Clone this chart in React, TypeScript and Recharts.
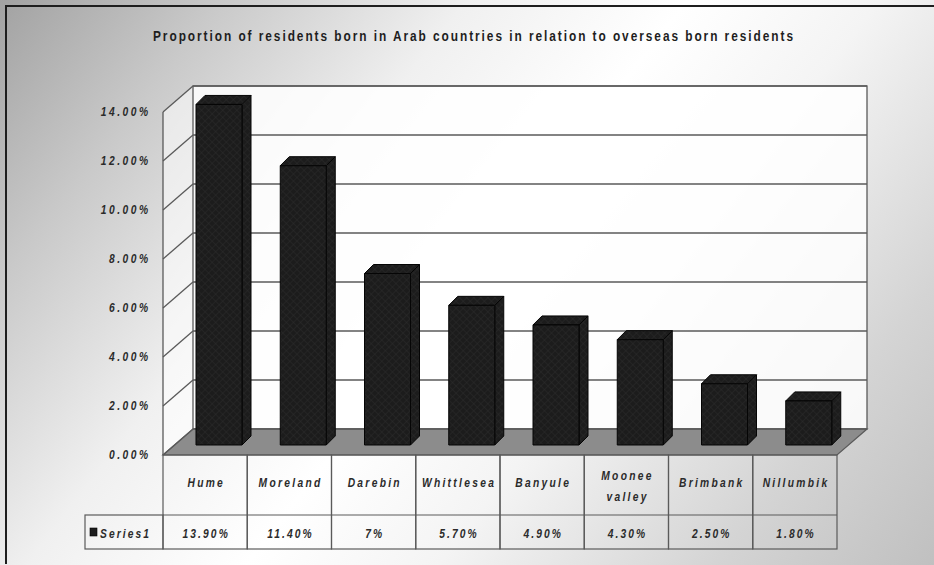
import React from 'react';
import { BarChart, Bar, XAxis, YAxis, CartesianGrid } from 'recharts';

// Share of overseas-born residents who were born in Arab countries, by municipality
const categories = ['Hume', 'Moreland', 'Darebin', 'Whittlesea', 'Banyule', 'Moonee valley', 'Brimbank', 'Nillumbik'];
const shares = [13.9, 11.4, 7, 5.7, 4.9, 4.3, 2.5, 1.8];
const yTicks = [0, 2, 4, 6, 8, 10, 12, 14];
const seriesName = 'Series1';
const title = 'Proportion of residents born in Arab countries in relation to overseas born residents';

const rows = categories.map((name, i) => ({ name, value: shares[i] }));

const W = 934;
const H = 565;
// front plane of the plot (where the axis and data table sit)
const PLOT_LEFT = 163;
const PLOT_RIGHT = 837;
const PLOT_TOP = 112;
const PLOT_BOTTOM = 455;
const Y_AXIS_W = 70;
const X_AXIS_H = 100;
// oblique depth of the box: front plane -> back wall
const DEPTH_X = 30;
const DEPTH_Y = 26;
// bars sit a little behind the front plane
const BAR_DX = 14;
const BAR_DY = -10;
const BAR_DEPTH = 9;
const BAR_W = 46;

const CELL_W = (PLOT_RIGHT - PLOT_LEFT) / categories.length;
const ROW1_H = 60;
const ROW2_H = 34;
const LEGEND_CELL_W = 78;

const FONT = '"Liberation Sans", Arial, sans-serif';
const SQUEEZE = 0.82; // condensed look, like Arial Narrow
const INK = '#2b2b2b';
const LINE = '#5a5a5a';
const BAR_FILL = '#1c1c1c';

const fmtPct = (v: number) => (Number.isInteger(v) ? `${v}%` : `${v.toFixed(2)}%`);

// bold narrow text; spacing is given in screen pixels
const NText = ({ x, y, anchor = 'start', size = 12, spacing = 0, italic = true, fill = INK, children, textLength }: any) => {
  const ls = spacing / SQUEEZE;
  // letter-spacing also trails the last glyph; shift so the ink stays anchored
  const shift = anchor === 'end' ? ls : anchor === 'middle' ? ls / 2 : 0;
  return (
    <g transform={`translate(${x},${y}) scale(${SQUEEZE},1)`}>
      <text x={shift} y={0} textAnchor={anchor} fontFamily={FONT} fontSize={size} fontWeight="bold"
        fontStyle={italic ? 'italic' : 'normal'} letterSpacing={textLength ? undefined : ls} fill={fill}
        textLength={textLength ? textLength / SQUEEZE : undefined} lengthAdjust={textLength ? 'spacing' : undefined}>
        {children}
      </text>
    </g>
  );
};

// back-wall gridline plus the matching diagonal on the side wall
const wallLine = (props: any) => {
  const { x1, y1, x2, y2, index } = props;
  return (
    <g key={`wall-${index}`}>
      <line x1={x1} y1={y1} x2={x1 + DEPTH_X} y2={y1 - DEPTH_Y} stroke={LINE} strokeWidth={1.3} />
      <line x1={x1 + DEPTH_X} y1={y1 - DEPTH_Y} x2={x2 + DEPTH_X} y2={y2 - DEPTH_Y} stroke={LINE} strokeWidth={1.3} />
    </g>
  );
};

const Box3D = (props: any) => {
  const { x, y, width, height } = props;
  if (width == null || height == null) return null;
  const fx = x + BAR_DX;
  const fy = y + BAR_DY;
  const d = BAR_DEPTH;
  const top = `${fx},${fy} ${fx + d},${fy - d} ${fx + width + d},${fy - d} ${fx + width},${fy}`;
  const side = `${fx + width},${fy} ${fx + width + d},${fy - d} ${fx + width + d},${fy + height - d} ${fx + width},${fy + height}`;
  return (
    <g stroke="#050505" strokeWidth={1} strokeLinejoin="round">
      <polygon points={side} fill="url(#barTexture)" />
      <polygon points={top} fill="url(#barTexture)" />
      <rect x={fx} y={fy} width={width} height={height} fill="url(#barTexture)" />
    </g>
  );
};

const YTick = (props: any) => {
  const { x, y, payload } = props;
  return (
    <NText x={x} y={y + 4} anchor="end" size={12.5} spacing={2.5}>
      {payload.value.toFixed(2)}%
    </NText>
  );
};

// data table under the plot: one column per category tick
const TableTick = (props: any) => {
  const { x, y, payload, index } = props;
  const left = x - CELL_W / 2;
  const words = String(payload.value).split(' ');
  return (
    <g>
      <rect x={left} y={y} width={CELL_W} height={ROW1_H + ROW2_H} fill="none" stroke={LINE} strokeWidth={1.2} />
      <line x1={left} y1={y + ROW1_H} x2={left + CELL_W} y2={y + ROW1_H} stroke={LINE} strokeWidth={1.2} />
      {words.length > 1 ? (
        words.map((w, i) => (
          <NText key={w} x={x} y={y + 25 + i * 21} anchor="middle" size={12.5} spacing={2.3}>{w}</NText>
        ))
      ) : (
        <NText x={x} y={y + 32} anchor="middle" size={12.5} spacing={2.3}>{payload.value}</NText>
      )}
      <NText x={x} y={y + ROW1_H + 23} anchor="middle" size={12.5} spacing={2.1}>{fmtPct(shares[index])}</NText>
      {index === 0 && (
        <g>
          <rect x={left - LEGEND_CELL_W} y={y + ROW1_H} width={LEGEND_CELL_W} height={ROW2_H} fill="none"
            stroke={LINE} strokeWidth={1.2} />
          <rect x={left - LEGEND_CELL_W + 5} y={y + ROW1_H + 13} width={7} height={8} fill={BAR_FILL} stroke="#000" strokeWidth={0.6} />
          <NText x={left - LEGEND_CELL_W + 15} y={y + ROW1_H + 23} size={12.5} spacing={2.1}>{seriesName}</NText>
        </g>
      )}
    </g>
  );
};

const App: React.FC = () => {
  const bx = PLOT_LEFT + DEPTH_X;
  const by = PLOT_TOP - DEPTH_Y;
  const bRight = PLOT_RIGHT + DEPTH_X;
  const bBottom = PLOT_BOTTOM - DEPTH_Y;
  return (
    <div style={{
      position: 'absolute', left: 0, top: 0, width: W, height: H, overflow: 'hidden',
      background: 'linear-gradient(128deg, #a2a2a2 0%, #c9c9c9 16%, #f0f0f0 34%, #ffffff 50%, #f4f4f4 64%, #d4d4d4 84%, #c0c0c0 100%)',
    }}>
      <div style={{
        position: 'absolute', left: 5, top: 5, width: W, height: H - 8,
        borderLeft: '2px solid #1e1e1e', borderTop: '2px solid #1e1e1e',
      }} />
      {/* walls and floor of the 3D box, underneath the chart */}
      <svg width={W} height={H} style={{ position: 'absolute', left: 0, top: 0 }}>
        <defs>
          <pattern id="barTexture" width="5" height="5" patternUnits="userSpaceOnUse" patternTransform="rotate(45)">
            <rect width="5" height="5" fill={BAR_FILL} />
            <path d="M0 0 H5 M0 0 V5" stroke="#2c2c2c" strokeWidth={1} />
          </pattern>
        </defs>
        <NText x={473} y={41} anchor="middle" size={14.5} italic={false} fill="#1e1e1e" textLength={640}>
          {title}
        </NText>
        <polygon points={`${PLOT_LEFT},${PLOT_TOP} ${bx},${by} ${bx},${bBottom} ${PLOT_LEFT},${PLOT_BOTTOM}`}
          fill="#ffffff" fillOpacity={0.55} />
        <rect x={bx} y={by} width={bRight - bx} height={bBottom - by} fill="#ffffff" fillOpacity={0.85}
          stroke={LINE} strokeWidth={1.3} />
        <polygon points={`${PLOT_LEFT},${PLOT_BOTTOM} ${bx},${bBottom} ${bRight},${bBottom} ${PLOT_RIGHT},${PLOT_BOTTOM}`}
          fill="#8c8c8c" stroke={LINE} strokeWidth={1.2} />
      </svg>
      <div style={{ position: 'absolute', left: 0, top: 0 }}>
        <BarChart
          width={W}
          height={H}
          data={rows}
          margin={{ top: PLOT_TOP, right: W - PLOT_RIGHT, bottom: H - PLOT_BOTTOM - X_AXIS_H, left: PLOT_LEFT - Y_AXIS_W }}
          barSize={BAR_W}
        >
          <CartesianGrid vertical={false} horizontal={wallLine} />
          <XAxis dataKey="name" interval={0} height={X_AXIS_H} axisLine={false} tickLine={false}
            tickSize={0} tickMargin={0} tick={<TableTick />} />
          <YAxis width={Y_AXIS_W} domain={[0, 14]} ticks={yTicks} interval={0} tickLine={false}
            tickSize={8} tickMargin={7} axisLine={{ stroke: LINE, strokeWidth: 1.3 }} tick={<YTick />} />
          <Bar dataKey="value" name={seriesName} fill={BAR_FILL} shape={<Box3D />} isAnimationActive={false} />
        </BarChart>
      </div>
    </div>
  );
};

export default App;
